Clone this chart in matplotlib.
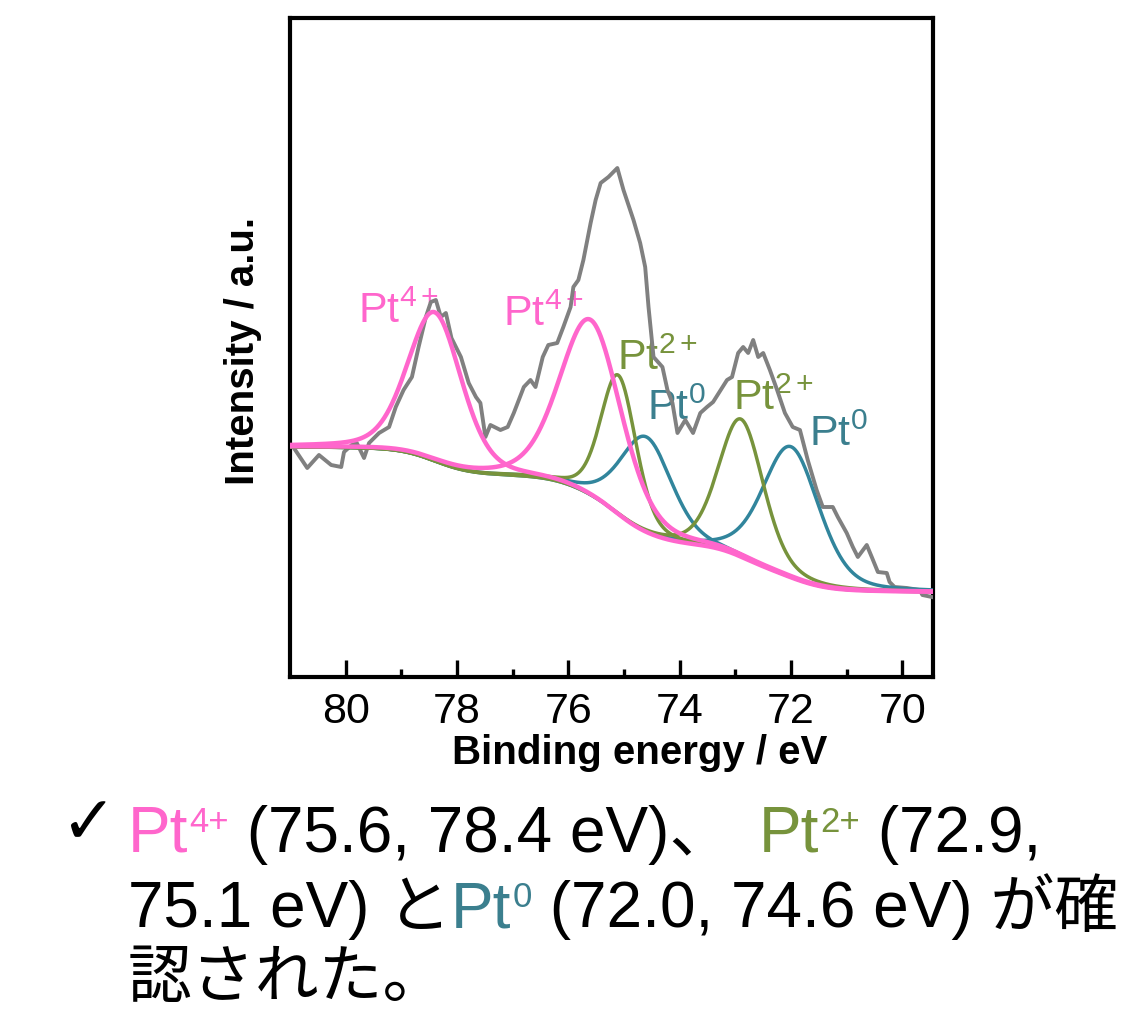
import numpy as np
import matplotlib
matplotlib.use('Agg')
import matplotlib.pyplot as plt

plt.rcParams['font.family'] = ['Liberation Sans', 'Noto Sans CJK JP', 'DejaVu Sans']
plt.rcParams['mathtext.fontset'] = 'custom'
plt.rcParams['mathtext.rm'] = 'Liberation Sans'
plt.rcParams['mathtext.it'] = 'Liberation Sans:italic'
plt.rcParams['mathtext.bf'] = 'Liberation Sans:bold'

# Pt 4f spectrum (binding energy in eV, intensity in a.u.)
energy = [80.93, 80.69, 80.48, 80.26, 80.08, 80.03, 79.89, 79.80, 79.67, 79.58,
          79.40, 79.22, 79.10, 78.96, 78.81, 78.69, 78.56, 78.47, 78.38, 78.29,
          78.20, 78.10, 77.93, 77.79, 77.66, 77.58, 77.49, 77.40, 77.22, 77.09,
          76.98, 76.80, 76.68, 76.59, 76.46, 76.36, 76.20, 76.09, 75.96, 75.91,
          75.82, 75.73, 75.60, 75.51, 75.42, 75.28, 75.12, 75.01, 74.83, 74.71,
          74.62, 74.56, 74.47, 74.31, 74.22, 74.13, 74.04, 73.90, 73.76, 73.63,
          73.51, 73.40, 73.15, 73.06, 72.95, 72.86, 72.77, 72.68, 72.59, 72.50,
          72.38, 72.25, 72.11, 71.97, 71.84, 71.70, 71.54, 71.43, 71.25, 71.16,
          71.00, 70.89, 70.80, 70.64, 70.55, 70.44, 70.28, 70.23, 70.14, 69.92,
          69.69, 69.64, 69.47]
counts = [229, 209, 222, 212, 210, 225, 232, 234, 219, 234,
          244, 250, 270, 287, 300, 330, 360, 375, 377, 360,
          364, 339, 320, 294, 280, 274, 240, 252, 247, 250,
          264, 290, 297, 290, 320, 332, 334, 350, 370, 390,
          397, 417, 454, 477, 494, 500, 509, 487, 457, 434,
          410, 370, 320, 310, 287, 274, 244, 257, 244, 264,
          270, 275, 297, 300, 324, 330, 324, 337, 320, 324,
          307, 287, 264, 250, 247, 217, 187, 170, 170, 160,
          144, 130, 120, 132, 120, 105, 104, 95, 90, 89,
          87, 82, 80]

# fitted components
peak_center = [78.4, 75.6, 75.1, 74.6, 72.9, 72.0]
peak_height = [149, 176, 140, 96, 138, 131]
peak_fwhm = [1.15, 1.3, 0.75, 1.1, 0.95, 1.2]
peak_state = ['4+', '4+', '2+', '0', '2+', '0']
bg_high = 230   # background on the high binding energy side
bg_low = 85     # background on the low binding energy side

line_colors = {'4+': '#FF66CC', '2+': '#77933C', '0': '#31859C'}
text_colors = {'4+': '#FF66CC', '2+': '#77933C', '0': '#3B7F8E'}

# label anchor (left edge, baseline) for each component
label_pos = [(79.78, 354), (77.18, 351), (75.12, 307), (74.58, 257), (73.04, 267), (71.68, 231)]


def pseudo_voigt(e, c, h, w, eta=0.3):
    g = np.exp(-4 * np.log(2) * ((e - c) / w) ** 2)
    lor = 1 / (1 + 4 * ((e - c) / w) ** 2)
    return h * ((1 - eta) * g + eta * lor)


e = np.linspace(69.4, 81.0, 1500)
peaks = [pseudo_voigt(e, c, h, w) for c, h, w in zip(peak_center, peak_height, peak_fwhm)]
total = np.sum(peaks, axis=0)
# Shirley-type background from the cumulative peak area
cum = np.cumsum(total)
cum = (cum - cum[0]) / (cum[-1] - cum[0])
background = bg_low + (bg_high - bg_low) * cum

W, H = 1134, 1009
fig = plt.figure(figsize=(W / 100, H / 100), dpi=100)
ax = fig.add_axes([290 / W, 1 - 677 / H, 643 / W, 659 / H])

ax.plot(energy, counts, color='#808080', lw=2.8, zorder=3)
order = [3, 5, 2, 4, 0, 1]
for i in order:
    lw = 3.2 if peak_state[i] == '4+' else 2.5
    ax.plot(e, background + peaks[i], color=line_colors[peak_state[i]], lw=lw, zorder=4)

for (x, y), s in zip(label_pos, peak_state):
    ax.text(x, y, r'Pt$^{\mathrm{%s}}$' % s, color=text_colors[s], fontsize=31,
            ha='left', va='baseline', zorder=2)

ax.set_xlim(81.0, 69.45)
ax.set_ylim(0, 659)
ax.set_xticks(np.arange(70, 81, 2))
ax.set_xticks(np.arange(71, 81, 2), minor=True)
ax.set_yticks([])
ax.tick_params(axis='x', which='major', direction='in', length=12, width=2.4,
               labelsize=31, pad=11)
ax.tick_params(axis='x', which='minor', direction='in', length=6, width=2.4)
for sp in ax.spines.values():
    sp.set_linewidth(3.0)

ax.set_xlabel('Binding energy / eV', fontsize=29, fontweight='bold')
ax.xaxis.set_label_coords(0.544, -0.087)
ax.set_ylabel('Intensity / a.u.', fontsize=29, fontweight='bold', va='center')
ax.yaxis.set_label_coords(-0.073, 0.495)

# summary sentence below the plot, with coloured species
renderer = fig.canvas.get_renderer()


def advance(s, size):
    a = fig.text(0, 0, '|' + s + '|', fontsize=size)
    b = fig.text(0, 0, '||', fontsize=size)
    w = a.get_window_extent(renderer).width - b.get_window_extent(renderer).width
    a.remove()
    b.remove()
    return w


def put_runs(x, y, runs):
    for s, color, size, rise, gap in runs:
        x += gap
        fig.text(x / W, 1 - (y - rise) / H, s, color=color, fontsize=size,
                 ha='left', va='baseline')
        x += advance(s, size)


fs, sup, rise = 46, 25, 20
fig.text(60 / W, 1 - 843 / H, '\u2713', fontsize=48, color='k',
         family=['DejaVu Sans'], ha='left', va='baseline')
put_runs(128, 852, [('Pt', text_colors['4+'], fs, 0, 0),
                    ('4+', text_colors['4+'], sup, rise, 1),
                    (' (75.6, 78.4 eV)、 ', 'k', fs, 0, 0),
                    ('Pt', text_colors['2+'], fs, 0, 8),
                    ('2+', text_colors['2+'], sup, rise, 1),
                    (' (72.9,', 'k', fs, 0, 0)])
put_runs(128, 927, [('75.1 eV) と', 'k', fs, 0, 0),
                    ('Pt', text_colors['0'], fs, 0, 0),
                    ('0', text_colors['0'], sup, rise, 1),
                    (' (72.0, 74.6 eV) が確', 'k', fs, 0, 0)])
put_runs(128, 997, [('認された。', 'k', fs, 0, 0)])

fig.savefig('out.png', dpi=100)
